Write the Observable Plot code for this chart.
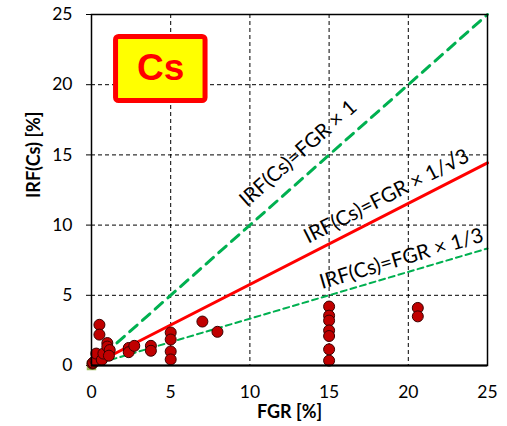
<!DOCTYPE html>
<html>
<head>
<meta charset="utf-8">
<script src="https://cdn.jsdelivr.net/npm/d3@7"></script>
<script src="https://cdn.jsdelivr.net/npm/@observablehq/plot@0.6"></script>
<style>
  html, body { margin: 0; padding: 0; background: #fff; }
</style>
</head>
<body>
<div id="chart"></div>
<script>
// Measured points (FGR %, IRF(Cs) %)
const fgr = [0.06, 0.1, 0.25, 0.3, 0.5, 0.5, 0.65, 0.75, 1.0, 1.0, 1.15, 1.1,
             2.35, 2.35, 2.7, 3.75, 3.75, 5, 5, 5, 5, 7.0, 7.95,
             15, 15, 15, 15, 15, 15, 15, 20.6, 20.6];
const irf = [0.14, 0.2, 0.35, 0.85, 2.9, 2.2, 0.4, 0.85, 1.6, 1.35, 1.1, 0.7,
             1.25, 0.95, 1.4, 1.4, 1.05, 2.35, 1.85, 1.0, 0.43, 3.13, 2.4,
             4.2, 3.55, 3.2, 2.5, 2.1, 1.15, 0.35, 4.1, 3.5];
// origin marker (second series)
const originX = [0];
const originY = [0];
// reference lines IRF = FGR × slope
const slopes = [1, 1 / Math.sqrt(3), 1 / 3];
const lineLabels = ["IRF(Cs)=FGR × 1", "IRF(Cs)=FGR × 1/√3", "IRF(Cs)=FGR × 1/3"];
const labelX = [13.05, 18.62, 19.57];
const labelY = [15.1, 12.05, 7.6];
const xTicks = [0, 5, 10, 15, 20, 25];
const yTicks = [0, 5, 10, 15, 20, 25];
const gridValues = [5, 10, 15, 20];
const elementLabel = ["Cs"];

const W = 507, H = 426, ML = 91, MR = 20, MT = 14, MB = 61;
const pxPerX = (W - ML - MR) / 25, pxPerY = (H - MT - MB) / 25;
const angle = s => -Math.atan(s * pxPerY / pxPerX) * 180 / Math.PI;

const points = fgr.map((x, i) => ({x, y: irf[i]}));
const lineData = slopes.map(s => [{x: 0, y: 0}, {x: 25, y: 25 * s}]);
const labels = lineLabels.map((t, i) => ({t, x: labelX[i], y: labelY[i], r: angle(slopes[i])}));

const chart = Plot.plot({
  width: W, height: H,
  marginLeft: ML, marginRight: MR, marginTop: MT, marginBottom: MB,
  style: {fontFamily: "Lato, 'Open Sans', sans-serif", fontSize: "17.5px", color: "#000", background: "#fff"},
  x: {domain: [0, 25], ticks: xTicks, tickSize: 0, tickPadding: 20, label: null},
  y: {domain: [0, 25], ticks: yTicks, tickSize: 5, tickPadding: 14, label: null},
  marks: [
    Plot.ruleX(gridValues, {stroke: "#000", strokeWidth: 1, strokeDasharray: "4,3"}),
    Plot.ruleY(gridValues, {stroke: "#000", strokeWidth: 1, strokeDasharray: "4,3"}),
    Plot.line(lineData[0], {x: "x", y: "y", stroke: "#00b050", strokeWidth: 3, strokeDasharray: "10,7"}),
    Plot.line(lineData[1], {x: "x", y: "y", stroke: "#ff0000", strokeWidth: 3}),
    Plot.line(lineData[2], {x: "x", y: "y", stroke: "#00b050", strokeWidth: 2, strokeDasharray: "6,4"}),
    Plot.text(labels, {x: "x", y: "y", text: "t", rotate: "r", fontSize: 20.5, fill: "#000", textAnchor: "middle"}),
    Plot.dot(originX.map((x, i) => ({x, y: originY[i]})), {x: "x", y: "y", symbol: "square", r: 4.5, fill: "#9bbb59", stroke: "#9bbb59"}),
    Plot.dot(points, {x: "x", y: "y", r: 5.5, fill: "#c00000", stroke: "#3a0000", strokeWidth: 1}),
    Plot.rect(elementLabel, {x1: 1.55, x2: 7.2, y1: 18.84, y2: 23.4, fill: "#ffff00", stroke: "#ff0000", strokeWidth: 5, rx: 3}),
    Plot.text(elementLabel, {x: 4.36, y: 21.15, text: d => d, fontSize: 37, fontWeight: "bold", fill: "#ff0000", fontFamily: "'Liberation Sans', Arial, sans-serif"}),
    Plot.frame({stroke: "#000", strokeWidth: 1.5}),
    Plot.ruleY([0], {stroke: "#000", strokeWidth: 2}),
    Plot.text(["FGR [%]"], {frameAnchor: "bottom", dy: 52, text: d => d, fontWeight: "bold", fontSize: 18}),
    Plot.text(["IRF(Cs) [%]"], {frameAnchor: "left", dx: -57, dy: 8, rotate: -90, text: d => d, fontWeight: "bold", fontSize: 18})
  ]
});
document.getElementById("chart").appendChild(chart);
</script>
</body>
</html>
